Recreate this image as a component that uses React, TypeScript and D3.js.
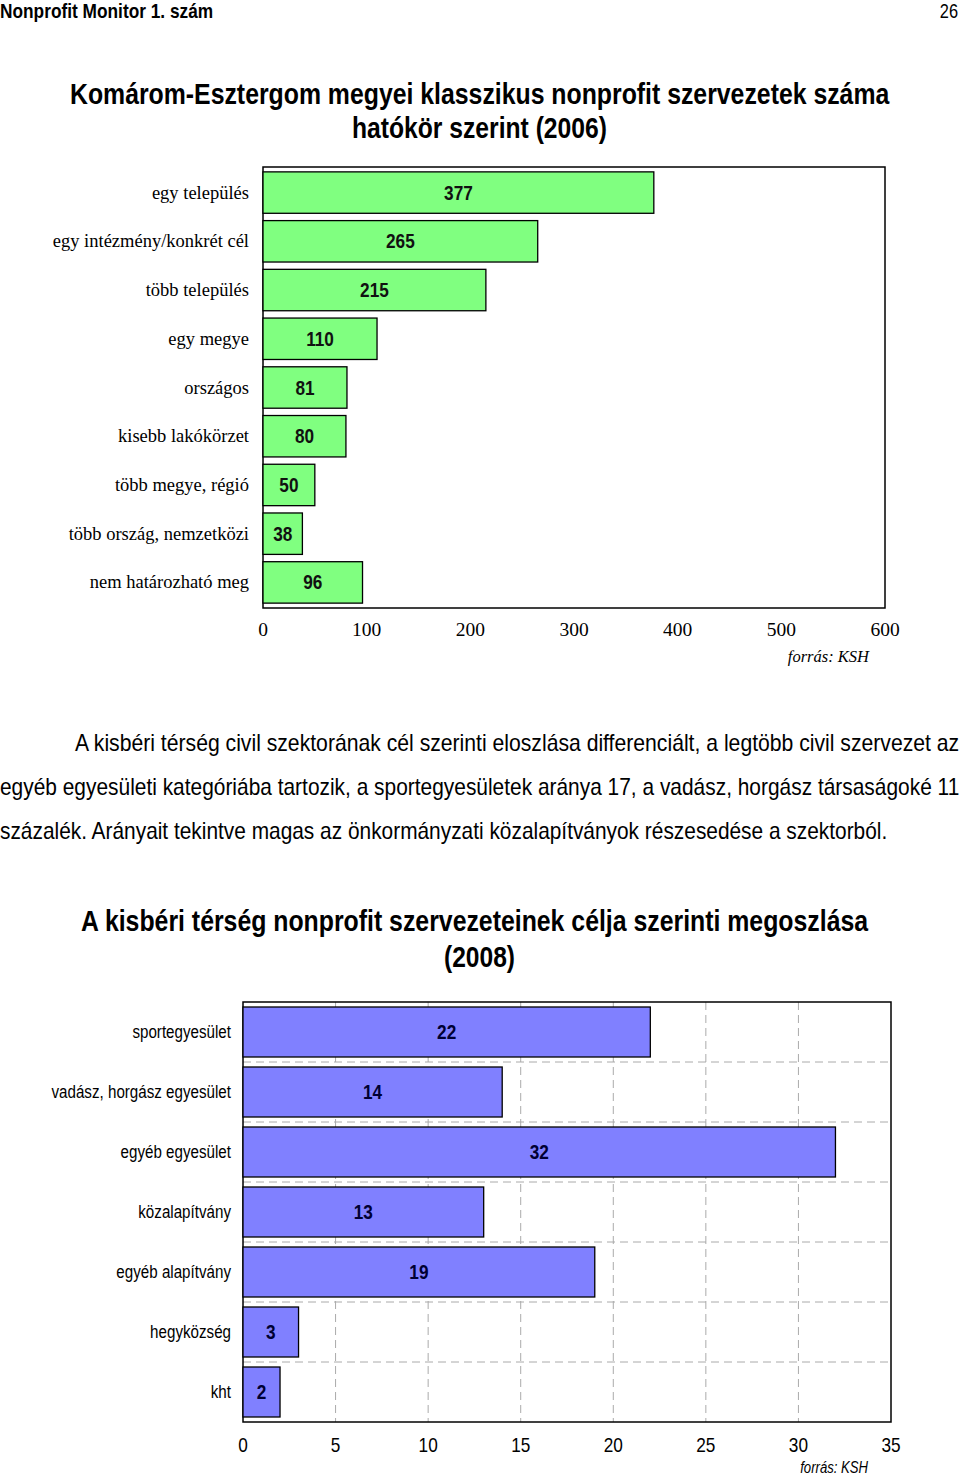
import React, { useLayoutEffect, useRef, useState } from "react";
import * as d3 from "d3";

const cats1 = ["egy település","egy intézmény/konkrét cél","több település","egy megye","országos","kisebb lakókörzet","több megye, régió","több ország, nemzetközi","nem határozható meg"];
const vals1 = [377,265,215,110,81,80,50,38,96];
const ticks1 = [0,100,200,300,400,500,600];

const cats2 = ["sportegyesület","vadász, horgász egyesület","egyéb egyesület","közalapítvány","egyéb alapítvány","hegyközség","kht"];
const vals2 = [22,14,32,13,19,3,2];
const ticks2 = [0,5,10,15,20,25,30,35];

const SANS = "'Liberation Sans', Arial, sans-serif";
const SERIF = "'Liberation Serif', 'Times New Roman', serif";
const SX = 0.82;

type NProps = { x: number; y: number; size: number; anchor?: "start" | "middle" | "end"; bold?: boolean; italic?: boolean; fill?: string; children: React.ReactNode };
function NText({ x, y, size, anchor = "start", bold, italic, fill = "#000", children }: NProps) {
  return (
    <g transform={`translate(${x},${y}) scale(${SX},1)`}>
      <text x={0} y={0} fontFamily={SANS} fontSize={size} textAnchor={anchor} fontWeight={bold ? "bold" : "normal"} fontStyle={italic ? "italic" : "normal"} fill={fill}>{children}</text>
    </g>
  );
}

type FProps = { x: number; y: number; size: number; width: number; bold?: boolean; children: string };
function FitText({ x, y, size, width, bold, children }: FProps) {
  const ref = useRef<SVGTextElement>(null);
  const [sx, setSx] = useState(SX);
  useLayoutEffect(() => {
    if (ref.current) {
      const w = ref.current.getComputedTextLength();
      if (w > 0) setSx(width / w);
    }
  }, [children, width, size]);
  return (
    <g transform={`translate(${x},${y}) scale(${sx},1)`}>
      <text ref={ref} x={0} y={0} fontFamily={SANS} fontSize={size} fontWeight={bold ? "bold" : "normal"}>{children}</text>
    </g>
  );
}

export default function App() {
  const x1 = d3.scaleLinear().domain([0, 600]).range([263, 885]);
  const y1 = d3.scaleBand<string>().domain(cats1).range([167, 608]).paddingInner(0.15).paddingOuter(0.1);
  const x2 = d3.scaleLinear().domain([0, 35]).range([243, 891]);
  const y2 = d3.scaleBand<string>().domain(cats2).range([1002, 1422]).paddingInner(1 / 6).paddingOuter(1 / 12);

  return (
    <svg width={960} height={1477} style={{ position: "absolute", left: 0, top: 0, background: "#fff" }}>
      <rect x={0} y={0} width={960} height={1477} fill="#fff" />
      {/* header */}
      <FitText x={0} y={18} size={20} width={213} bold>Nonprofit Monitor 1. szám</FitText>
      <NText x={958} y={18} size={20} anchor="end">26</NText>

      {/* chart 1 title */}
      <FitText x={70} y={104} size={29} width={819} bold>Komárom-Esztergom megyei klasszikus nonprofit szervezetek száma</FitText>
      <FitText x={352} y={138} size={29} width={255} bold>hatókör szerint (2006)</FitText>

      {/* chart 1 */}
      <rect x={263} y={167} width={622} height={441} fill="none" stroke="#000" strokeWidth={1.5} />
      {cats1.map((c, i) => (
        <g key={c}>
          <rect x={x1(0)} y={y1(c)!} width={x1(vals1[i]) - x1(0)} height={y1.bandwidth()} fill="#80FF80" stroke="#000" strokeWidth={1.3} />
          <NText x={(x1(0) + x1(vals1[i])) / 2} y={y1(c)! + y1.bandwidth() / 2 + 7} size={21} bold anchor="middle" fill="#111">{vals1[i]}</NText>
          <text x={249} y={y1(c)! + y1.bandwidth() / 2 + 6} fontFamily={SERIF} fontSize={18.5} textAnchor="end">{c}</text>
        </g>
      ))}
      {ticks1.map(t => (
        <text key={t} x={x1(t)} y={636} fontFamily={SERIF} fontSize={19.5} textAnchor="middle">{t}</text>
      ))}
      <text x={869} y={662} fontFamily={SERIF} fontStyle="italic" fontSize={16.5} textAnchor="end">forrás: KSH</text>

      {/* paragraph */}
      <FitText x={75} y={751} size={23} width={884}>A kisbéri térség civil szektorának cél szerinti eloszlása differenciált, a legtöbb civil szervezet az</FitText>
      <FitText x={0} y={795} size={23} width={959}>egyéb egyesületi kategóriába tartozik, a sportegyesületek aránya 17, a vadász, horgász társaságoké 11</FitText>
      <FitText x={0} y={839} size={23} width={887}>százalék. Arányait tekintve magas az önkormányzati közalapítványok részesedése a szektorból.</FitText>

      {/* chart 2 title */}
      <FitText x={81} y={931} size={30} width={787} bold>A kisbéri térség nonprofit szervezeteinek célja szerinti megoszlása</FitText>
      <FitText x={444} y={967} size={30} width={71} bold>(2008)</FitText>

      {/* chart 2 */}
      {ticks2.slice(1, -1).map(t => (
        <line key={"gv" + t} x1={x2(t)} x2={x2(t)} y1={1002} y2={1422} stroke="#aaa" strokeWidth={1} strokeDasharray="8,5" />
      ))}
      {cats2.slice(1).map(c => (
        <line key={"gh" + c} x1={243} x2={891} y1={y2(c)! - (y2.step() - y2.bandwidth()) / 2} y2={y2(c)! - (y2.step() - y2.bandwidth()) / 2} stroke="#aaa" strokeWidth={1} strokeDasharray="8,5" />
      ))}
      <rect x={243} y={1002} width={648} height={420} fill="none" stroke="#000" strokeWidth={1.5} />
      {cats2.map((c, i) => (
        <g key={c}>
          <rect x={x2(0)} y={y2(c)!} width={x2(vals2[i]) - x2(0)} height={y2.bandwidth()} fill="#8080FF" stroke="#000" strokeWidth={1.3} />
          <NText x={(x2(0) + x2(vals2[i])) / 2} y={y2(c)! + y2.bandwidth() / 2 + 7} size={21} bold anchor="middle" fill="#000033">{vals2[i]}</NText>
          <NText x={231} y={y2(c)! + y2.bandwidth() / 2 + 6} size={18.5} anchor="end">{c}</NText>
        </g>
      ))}
      {ticks2.map(t => (
        <NText key={t} x={x2(t)} y={1452} size={21} anchor="middle">{t}</NText>
      ))}
      <NText x={868} y={1473} size={16} italic anchor="end">forrás: KSH</NText>
    </svg>
  );
}
